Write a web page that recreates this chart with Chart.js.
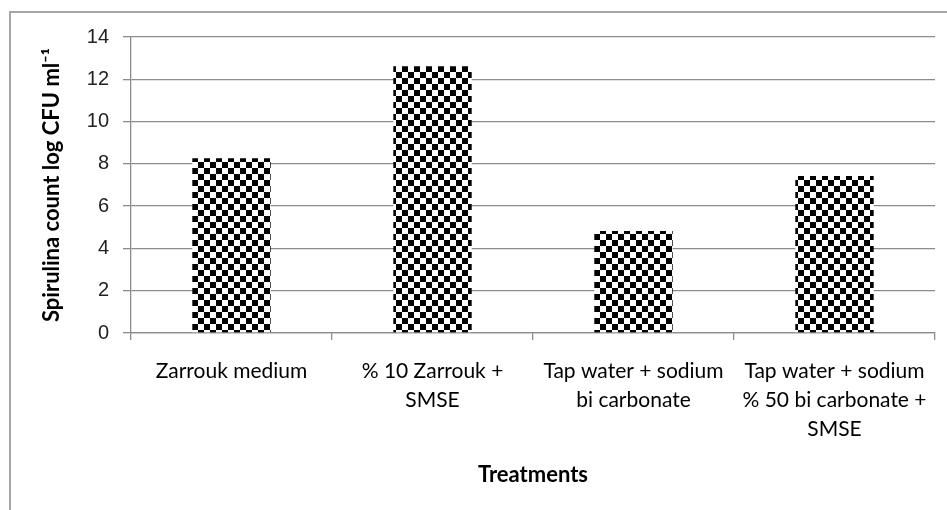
<!DOCTYPE html>
<html>
<head>
<meta charset="utf-8">
<script src="https://cdn.jsdelivr.net/npm/chart.js@4.4.1/dist/chart.umd.min.js"></script>
<style>
  html, body { margin: 0; padding: 0; background: #fff; }
  #wrap { position: relative; width: 947px; height: 510px; overflow: hidden; }
  #frame { position: absolute; left: 9px; top: 11px; width: 1000px; height: 600px;
           border-left: 2px solid #a6a6a6; border-top: 2px solid #a6a6a6; }
  canvas { position: absolute; left: 0; top: 0; }
</style>
</head>
<body>
<div id="wrap">
  <div id="frame"></div>
  <canvas id="chart" width="947" height="510"></canvas>
</div>
<script>
// --- data ---
const categories = [
    ['Zarrouk medium'],
    ['% 10 Zarrouk +', 'SMSE'],
    ['Tap water + sodium', 'bi carbonate'],
    ['Tap water + sodium', '% 50 bi carbonate +', 'SMSE']
];
const counts = [8.27, 12.62, 4.82, 7.42];
const yTicks = [0, 2, 4, 6, 8, 10, 12, 14];

// checkerboard fill like the Excel pattern
const makePattern = () => {
    const c = document.createElement('canvas');
    c.width = 12; c.height = 12;
    const g = c.getContext('2d');
    g.fillStyle = '#fff';
    g.fillRect(0, 0, 12, 12);
    g.fillStyle = '#000';
    g.fillRect(0, 0, 6, 6);
    g.fillRect(6, 6, 6, 6);
    return g.createPattern(c, 'repeat');
};

const ctx = document.getElementById('chart').getContext('2d');
const checker = makePattern();

new Chart(ctx, {
    type: 'bar',
    data: {
        labels: categories,
        datasets: [{
            data: counts,
            backgroundColor: checker,
            borderWidth: 0,
            categoryPercentage: 1,
            barPercentage: 0.39
        }]
    },
    options: {
        responsive: false,
        animation: false,
        layout: { padding: { left: 0, right: 12, top: 37, bottom: 0 } },
        plugins: { legend: { display: false }, tooltip: { enabled: false } },
        scales: {
            x: {
                grid: { display: true, drawOnChartArea: false, drawTicks: true, tickLength: 7,
                        color: '#8c8c8c', lineWidth: 1.3, offset: true },
                border: { display: true, color: '#8c8c8c', width: 1.3 },
                ticks: {
                    color: '#000', padding: 17, maxRotation: 0, autoSkip: false,
                    font: { family: 'Lato', size: 21, lineHeight: 1.38 }
                },
                title: {
                    display: true, text: 'Treatments', color: '#000',
                    font: { family: 'Lato', size: 22, weight: 'bold' },
                    padding: { top: 0, bottom: 22 }
                },
                afterFit: (scale) => { scale.height = 177; }
            },
            y: {
                min: 0, max: 14,
                afterBuildTicks: (scale) => { scale.ticks = yTicks.map(v => ({ value: v })); },
                grid: { color: '#8c8c8c', lineWidth: 1.3, tickLength: 8 },
                border: { display: true, color: '#8c8c8c', width: 1.3 },
                ticks: {
                    color: '#222', padding: 14,
                    font: { family: 'Liberation Sans', size: 20 }
                },
                title: {
                    display: true, text: 'Spirulina count log CFU ml\u207B\u00B9', color: '#000',
                    font: { family: 'Lato', size: 22, weight: 'bold' },
                    padding: { top: 39, bottom: 0 }
                },
                afterFit: (scale) => { scale.width = 131; }
            }
        }
    }
});
</script>
</body>
</html>
